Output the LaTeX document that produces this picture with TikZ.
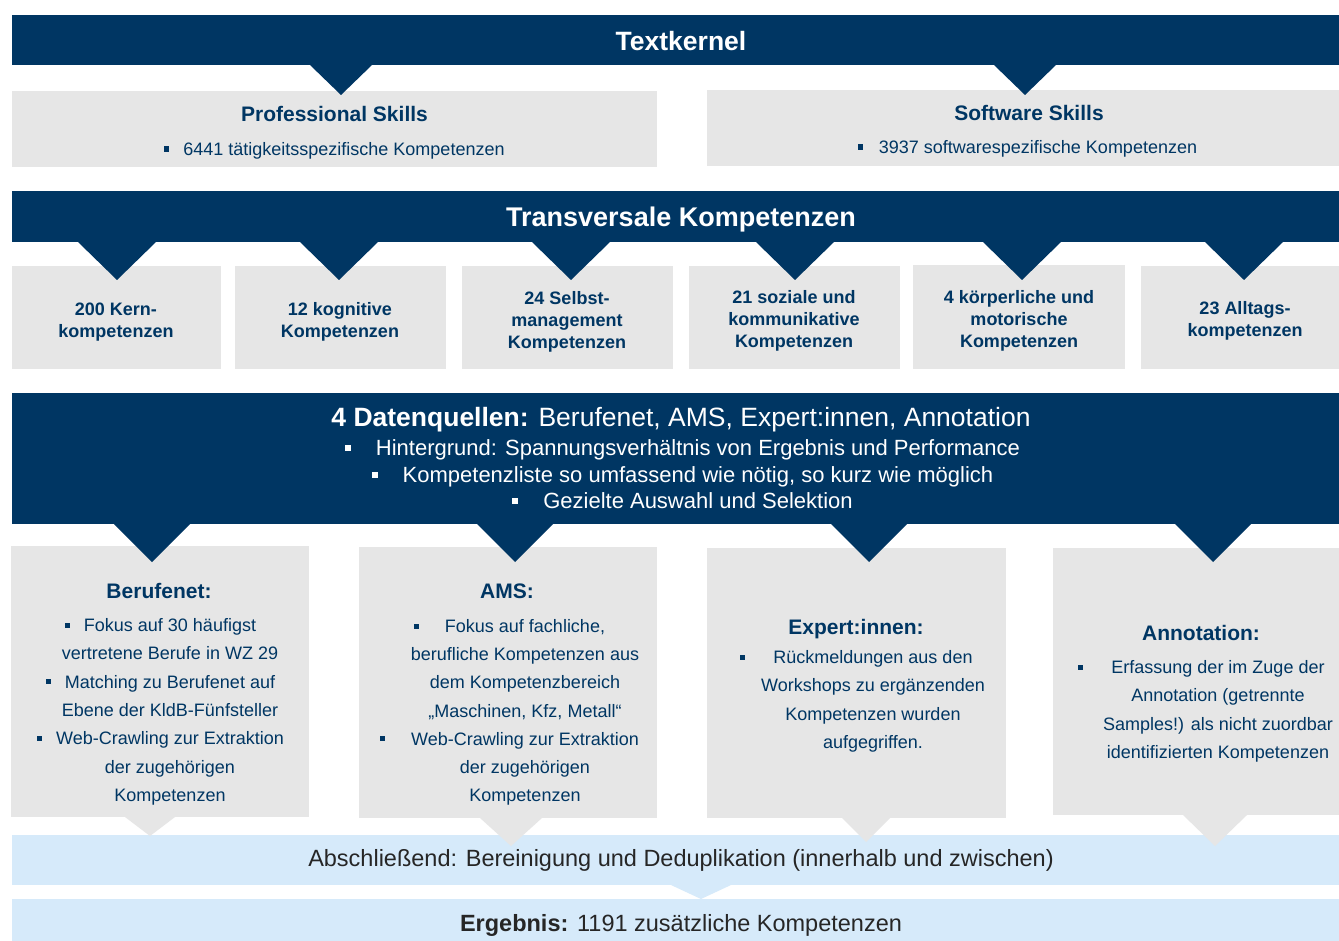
\documentclass[tikz,border=0pt]{standalone}
\usepackage{fontspec}
\setmainfont{Liberation Sans}
\definecolor{navy}{RGB}{0,54,99}
\definecolor{boxgrey}{RGB}{230,230,230}
\definecolor{lblue}{RGB}{214,234,250}
\definecolor{dgrey}{RGB}{38,38,38}
\newcommand\sqb{\raisebox{0.22em}{\rule{0.28em}{0.28em}}}
\newcommand\hb[1]{\llap{\sqb\hspace{#1}}}
\begin{document}
\begin{tikzpicture}[x=1pt,y=-1pt,
  rect/.style={draw=none, inner sep=0pt, outer sep=0pt, anchor=north west},
  band/.style={rect, fill=navy},
  gbox/.style={rect, fill=boxgrey},
  lbox/.style={rect, fill=lblue},
  bandttl/.style={text=white, inner sep=0pt, font=\fontsize{26.5}{30}\selectfont\bfseries},
  boxttl/.style={text=navy, inner sep=0pt, font=\fontsize{21}{24}\selectfont\bfseries},
  item/.style={text=navy, inner sep=0pt, text height=1.3em, text depth=0pt, font=\fontsize{18}{21}\selectfont},
  tvtxt/.style={text=navy, inner sep=0pt, align=center, font=\fontsize{18}{22}\selectfont\bfseries},
  dqtxt/.style={text=white, inner sep=0pt, text height=1.3em, text depth=0pt, font=\fontsize{22}{26}\selectfont},
  lbtxt/.style={text=dgrey, inner sep=0pt, text height=1.3em, text depth=0pt, font=\fontsize{23.5}{27}\selectfont},
]
\useasboundingbox (0,0) rectangle (1339,941);
\fill[white] (0,0) rectangle (1339,941);

% grey boxes
\node[gbox, minimum width=645, minimum height=76] (ps) at (12,91) {};
\node[gbox, minimum width=632, minimum height=76] (ss) at (707,90) {};
\node[gbox, minimum width=209, minimum height=103] (t1) at (12,266) {};
\node[gbox, minimum width=211, minimum height=103] (t2) at (235,266) {};
\node[gbox, minimum width=211, minimum height=103] (t3) at (462,266) {};
\node[gbox, minimum width=211, minimum height=103] (t4) at (689,266) {};
\node[gbox, minimum width=212, minimum height=104] (t5) at (913,265) {};
\node[gbox, minimum width=198, minimum height=103] (t6) at (1141,266) {};
\node[gbox, minimum width=298, minimum height=271] (bb) at (11,546) {};
\node[gbox, minimum width=298, minimum height=271] (ab) at (359,547) {};
\node[gbox, minimum width=299, minimum height=270] (eb) at (707,548) {};
\node[gbox, minimum width=286, minimum height=267] (nb) at (1053,548) {};

% bands
\node[band, minimum width=1327, minimum height=50.5] (tk) at (12,15) {};
\node[band, minimum width=1327, minimum height=51] (tv) at (12,191) {};
\node[band, minimum width=1327, minimum height=131] (dq) at (12,393) {};
\node[lbox, minimum width=1327, minimum height=50] (lb1) at (12,835) {};
\node[lbox, minimum width=1327, minimum height=42] (lb2) at (12,899) {};

% navy pointers
\fill[navy] (310,65) -- (372,65) -- (341,95) -- cycle;
\fill[navy] (994,65) -- (1056,65) -- (1025,95) -- cycle;
\foreach \c in {117,339,571,795,1022,1244}
  \fill[navy] (\c-39,242) -- (\c+39,242) -- (\c,280) -- cycle;
\foreach \c in {152,515,869,1213}
  \fill[navy] (\c-38,524) -- (\c+38,524) -- (\c,562) -- cycle;

% grey pointers into the light blue band
\fill[boxgrey] (125,817) -- (175,817) -- (150,836) -- cycle;
\fill[boxgrey] (480,818) -- (542,818) -- (511,846) -- cycle;
\fill[boxgrey] (842,818) -- (890,818) -- (866,842) -- cycle;
\fill[boxgrey] (1183,815) -- (1247,815) -- (1215,846) -- cycle;
% light blue pointer
\fill[lblue] (671,885) -- (731,885) -- (701,899) -- cycle;

% texts: top
\node[bandttl] (tkt) at (681,41) {Textkernel};
\node[boxttl] (pst) at (334.5,114) {Professional Skills};
\node[item] (psi) at (344,149) {\hb{14pt}6441 tätigkeitsspezifische Kompetenzen};
\node[boxttl] (sst) at (1029,113) {Software Skills};
\node[item] (ssi) at (1038,147) {\hb{16pt}3937 softwarespezifische Kompetenzen};

% Transversale
\node[bandttl, font=\fontsize{27}{30}\selectfont\bfseries] (tvt) at (681,220) {Transversale Kompetenzen};
\node[tvtxt] (t1t) at (116,322) {200 Kern-\\kompetenzen};
\node[tvtxt] (t2t) at (340,321.5) {12 kognitive\\Kompetenzen};
\node[tvtxt] (t3t) at (567,321.5) {24 Selbst-\\management\\Kompetenzen};
\node[tvtxt] (t4t) at (794,321) {21 soziale und\\kommunikative\\Kompetenzen};
\node[tvtxt] (t5t) at (1019,320.5) {4 körperliche und\\motorische\\Kompetenzen};
\node[tvtxt] (t6t) at (1245,321) {23 Alltags-\\kompetenzen};

% Datenquellen
\node[text=white, inner sep=0pt, text height=1.3em, text depth=0pt, font=\fontsize{26.5}{30}\selectfont] (dqt) at (681,420)
  {\textbf{4 Datenquellen:} Berufenet, AMS, Expert:innen, Annotation};
\node[dqtxt] (dq1) at (698,449) {\hb{25pt}Hintergrund: Spannungsverhältnis von Ergebnis und Performance};
\node[dqtxt] (dq2) at (698,476) {\hb{25pt}Kompetenzliste so umfassend wie nötig, so kurz wie möglich};
\node[dqtxt] (dq3) at (698,502) {\hb{25pt}Gezielte Auswahl und Selektion};

% four sources
\node[boxttl] (bbt) at (159,591) {Berufenet:};
\foreach \t [count=\i] in {{\hb{14pt}Fokus auf 30 häufigst},{vertretene Berufe in WZ 29},{\hb{14pt}Matching zu Berufenet auf},{Ebene der KldB-Fünfsteller},{\hb{14pt}Web-Crawling zur Extraktion},{der zugehörigen},{Kompetenzen}}
  \node[item, name=bb\i] at (170,{625+28.3*(\i-1)}) {\t};

\node[boxttl] (abt) at (507,591) {AMS:};
\foreach \t [count=\i] in {{\hb{26pt}Fokus auf fachliche,},{berufliche Kompetenzen aus},{dem Kompetenzbereich},{„Maschinen, Kfz, Metall“},{\hb{26pt}Web-Crawling zur Extraktion},{der zugehörigen},{Kompetenzen}}
  \node[item, name=ab\i] at (525,{626+28.2*(\i-1)}) {\t};

\node[boxttl] (ebt) at (856,629.5) {Expert:innen:};
\foreach \t [count=\i] in {{\hb{28pt}Rückmeldungen aus den},{Workshops zu ergänzenden},{Kompetenzen wurden},{aufgegriffen.}}
  \node[item, name=eb\i] at (873,{657+28.3*(\i-1)}) {\t};

\node[boxttl] (nbt) at (1201,633) {Annotation:};
\foreach \t [count=\i] in {{\hb{28pt}Erfassung der im Zuge der},{Annotation (getrennte},{Samples!) als nicht zuordbar},{identifizierten Kompetenzen}}
  \node[item, name=nb\i] at (1218,{667+28.3*(\i-1)}) {\t};

% bottom
\node[lbtxt] (lb1t) at (681,860) {Abschließend: Bereinigung und Deduplikation (innerhalb und zwischen)};
\node[lbtxt] (lb2t) at (681,925) {\textbf{Ergebnis:} 1191 zusätzliche Kompetenzen};
\end{tikzpicture}
\end{document}
